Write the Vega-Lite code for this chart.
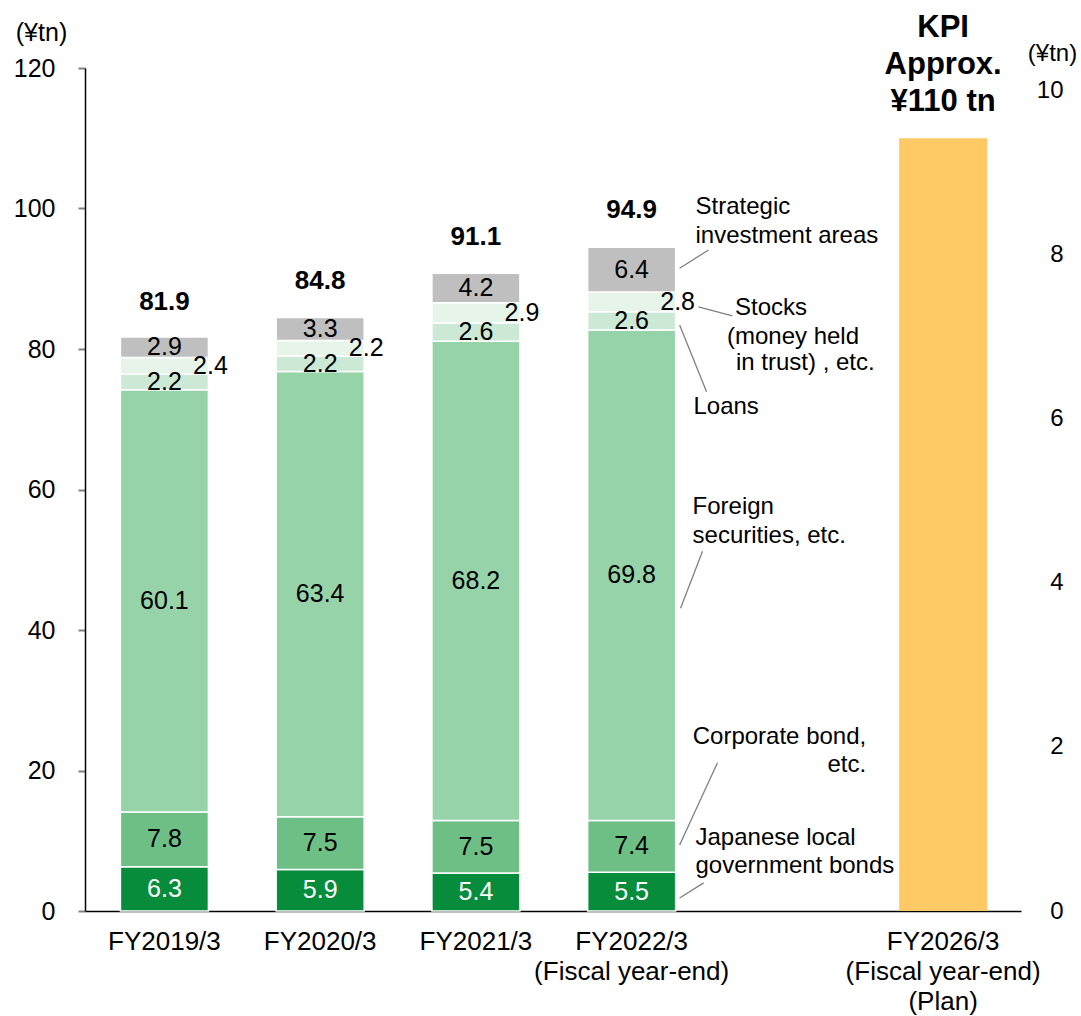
{
  "$schema": "https://vega.github.io/schema/vega-lite/v6.json",
  "width": 936,
  "height": 843,
  "autosize": {"type": "none"},
  "padding": {"left": 85, "top": 68, "right": 60, "bottom": 105},
  "background": "white",
  "config": {
    "view": {"stroke": null},
    "font": "Liberation Sans, Arial, sans-serif",
    "text": {"font": "Liberation Sans, Arial, sans-serif"},
    "axis": {"labelFont": "Liberation Sans, Arial, sans-serif", "titleFont": "Liberation Sans, Arial, sans-serif", "labelColor": "black", "titleColor": "black"}
  },
  "datasets": {
    "holdings": [
      {"slot": 1, "cat": "Japanese local government bonds", "order": 1, "value": 6.3},
      {"slot": 1, "cat": "Corporate bond, etc.", "order": 2, "value": 7.8},
      {"slot": 1, "cat": "Foreign securities, etc.", "order": 3, "value": 60.1},
      {"slot": 1, "cat": "Loans", "order": 4, "value": 2.2},
      {"slot": 1, "cat": "Stocks (money held in trust), etc.", "order": 5, "value": 2.4},
      {"slot": 1, "cat": "Strategic investment areas", "order": 6, "value": 2.9},
      {"slot": 2, "cat": "Japanese local government bonds", "order": 1, "value": 5.9},
      {"slot": 2, "cat": "Corporate bond, etc.", "order": 2, "value": 7.5},
      {"slot": 2, "cat": "Foreign securities, etc.", "order": 3, "value": 63.4},
      {"slot": 2, "cat": "Loans", "order": 4, "value": 2.2},
      {"slot": 2, "cat": "Stocks (money held in trust), etc.", "order": 5, "value": 2.2},
      {"slot": 2, "cat": "Strategic investment areas", "order": 6, "value": 3.3},
      {"slot": 3, "cat": "Japanese local government bonds", "order": 1, "value": 5.4},
      {"slot": 3, "cat": "Corporate bond, etc.", "order": 2, "value": 7.5},
      {"slot": 3, "cat": "Foreign securities, etc.", "order": 3, "value": 68.2},
      {"slot": 3, "cat": "Loans", "order": 4, "value": 2.6},
      {"slot": 3, "cat": "Stocks (money held in trust), etc.", "order": 5, "value": 2.9},
      {"slot": 3, "cat": "Strategic investment areas", "order": 6, "value": 4.2},
      {"slot": 4, "cat": "Japanese local government bonds", "order": 1, "value": 5.5},
      {"slot": 4, "cat": "Corporate bond, etc.", "order": 2, "value": 7.4},
      {"slot": 4, "cat": "Foreign securities, etc.", "order": 3, "value": 69.8},
      {"slot": 4, "cat": "Loans", "order": 4, "value": 2.6},
      {"slot": 4, "cat": "Stocks (money held in trust), etc.", "order": 5, "value": 2.8},
      {"slot": 4, "cat": "Strategic investment areas", "order": 6, "value": 6.4}
    ],
    "years": [
      {"slot": 1, "label": "FY2019/3", "total": 81.9},
      {"slot": 2, "label": "FY2020/3", "total": 84.8},
      {"slot": 3, "label": "FY2021/3", "total": 91.1},
      {"slot": 4, "label": "FY2022/3\n(Fiscal year-end)", "total": 94.9},
      {"slot": 6, "label": "FY2026/3\n(Fiscal year-end)\n(Plan)", "total": null}
    ],
    "plan": [
      {"slot": 6, "value": 110, "note": "KPI\nApprox.\n¥110 tn"}
    ],
    "leaders": [
      {"cat": "Strategic investment areas", "x": 4.308, "y": 91.5, "x2": 4.494, "y2": 94.1},
      {"cat": "Stocks (money held in trust), etc.", "x": 4.429, "y": 86.0, "x2": 4.647, "y2": 84.7},
      {"cat": "Loans", "x": 4.308, "y": 83.4, "x2": 4.481, "y2": 73.9},
      {"cat": "Foreign securities, etc.", "x": 4.314, "y": 43.1, "x2": 4.455, "y2": 51.2},
      {"cat": "Corporate bond, etc.", "x": 4.308, "y": 9.4, "x2": 4.551, "y2": 21.1},
      {"cat": "Japanese local government bonds", "x": 4.308, "y": 1.85, "x2": 4.462, "y2": 4.0}
    ],
    "notes": [
      {"cat": "Strategic investment areas", "tx": 4.41, "ty": 100.2, "side": "left", "text": "Strategic\ninvestment areas"},
      {"cat": "Stocks (money held in trust), etc.", "tx": 4.664, "ty": 85.8, "side": "left", "text": "Stocks"},
      {"cat": "Stocks (money held in trust), etc.", "tx": 4.612, "ty": 81.7, "side": "left", "text": "(money held"},
      {"cat": "Stocks (money held in trust), etc.", "tx": 4.67, "ty": 78.0, "side": "left", "text": "in trust) , etc."},
      {"cat": "Loans", "tx": 4.397, "ty": 71.7, "side": "left", "text": "Loans"},
      {"cat": "Foreign securities, etc.", "tx": 4.391, "ty": 57.5, "side": "left", "text": "Foreign\nsecurities, etc."},
      {"cat": "Corporate bond, etc.", "tx": 5.506, "ty": 24.8, "side": "right", "text": "Corporate bond,\netc."},
      {"cat": "Japanese local government bonds", "tx": 4.41, "ty": 10.4, "side": "left", "text": "Japanese local\ngovernment bonds"}
    ],
    "rightTicks": [{"r": 0}, {"r": 10}]
  },
  "layer": [
    {
      "layer": [
        {
          "data": {"name": "holdings"},
          "transform": [
            {"stack": "value", "groupby": ["slot"], "sort": [{"field": "order", "order": "ascending"}], "as": ["y0", "y1"]}
          ],
          "mark": {"type": "bar", "orient": "vertical", "size": 88, "stroke": "white", "strokeWidth": 1.5},
          "encoding": {
            "x": {
              "field": "slot", "type": "quantitative",
              "scale": {"domain": [0.49, 6.5], "nice": false, "zero": false, "padding": 0},
              "axis": {"labels": false, "ticks": false, "grid": false, "title": null, "domain": true, "domainColor": "black", "domainWidth": 1.5}
            },
            "y": {
              "field": "y0", "type": "quantitative",
              "scale": {"domain": [0, 120], "nice": false, "padding": 0},
              "axis": {
                "values": [0, 20, 40, 60, 80, 100, 120],
                "grid": false,
                "domain": true, "domainColor": "black", "domainWidth": 1.5,
                "ticks": true, "tickColor": "#808080", "tickWidth": 2, "tickSize": 7,
                "labelFontSize": 25, "labelPadding": 23,
                "title": "(¥tn)", "titleAngle": 0, "titleFontSize": 25, "titleFontWeight": "normal",
                "titleAlign": "center", "titleBaseline": "middle", "titleX": -44, "titleY": -36
              }
            },
            "y2": {"field": "y1"},
            "color": {
              "field": "cat", "type": "nominal", "legend": null,
              "scale": {
                "domain": ["Japanese local government bonds", "Corporate bond, etc.", "Foreign securities, etc.", "Loans", "Stocks (money held in trust), etc.", "Strategic investment areas"],
                "range": ["#068C3B", "#6DBF86", "#96D3A9", "#CCE9D5", "#E7F4EA", "#BFBFBF"]
              }
            }
          }
        },
        {
          "data": {"name": "holdings"},
          "transform": [
            {"stack": "value", "groupby": ["slot"], "sort": [{"field": "order", "order": "ascending"}], "as": ["y0", "y1"]},
            {"calculate": "(datum.y0 + datum.y1) / 2", "as": "mid"},
            {"filter": "datum.cat !== 'Stocks (money held in trust), etc.'"}
          ],
          "mark": {"type": "text", "fontSize": 25, "align": "center", "baseline": "middle"},
          "encoding": {
            "x": {"field": "slot", "type": "quantitative"},
            "y": {"field": "mid", "type": "quantitative"},
            "text": {"field": "value", "type": "quantitative", "format": ".1f"},
            "color": {"condition": {"test": "datum.cat === 'Japanese local government bonds'", "value": "white"}, "value": "black"}
          }
        },
        {
          "data": {"name": "holdings"},
          "transform": [
            {"stack": "value", "groupby": ["slot"], "sort": [{"field": "order", "order": "ascending"}], "as": ["y0", "y1"]},
            {"calculate": "(datum.y0 + datum.y1) / 2", "as": "mid"},
            {"filter": "datum.cat === 'Stocks (money held in trust), etc.'"}
          ],
          "mark": {"type": "text", "fontSize": 25, "align": "center", "baseline": "middle", "dx": 46, "color": "black"},
          "encoding": {
            "x": {"field": "slot", "type": "quantitative"},
            "y": {"field": "mid", "type": "quantitative"},
            "text": {"field": "value", "type": "quantitative", "format": ".1f"}
          }
        },
        {
          "data": {"name": "years"},
          "transform": [{"filter": "datum.total != null"}],
          "mark": {"type": "text", "fontSize": 26, "fontWeight": "bold", "align": "center", "baseline": "middle", "dy": -34, "color": "black"},
          "encoding": {
            "x": {"field": "slot", "type": "quantitative"},
            "y": {"field": "total", "type": "quantitative"},
            "text": {"field": "total", "type": "quantitative", "format": ".1f"}
          }
        },
        {
          "data": {"name": "years"},
          "mark": {"type": "text", "fontSize": 26, "align": "center", "baseline": "top", "dy": 18, "lineBreak": "\n", "lineHeight": 30, "color": "black"},
          "encoding": {
            "x": {"field": "slot", "type": "quantitative"},
            "y": {"datum": 0},
            "text": {"field": "label"}
          }
        },
        {
          "data": {"name": "plan"},
          "mark": {"type": "bar", "orient": "vertical", "size": 88, "color": "#FFCA66"},
          "encoding": {
            "x": {"field": "slot", "type": "quantitative"},
            "y": {"field": "value", "type": "quantitative"},
            "y2": {"datum": 0}
          }
        },
        {
          "data": {"name": "plan"},
          "mark": {"type": "text", "fontSize": 31, "fontWeight": "bold", "align": "center", "baseline": "middle", "dy": -110, "lineBreak": "\n", "lineHeight": 37, "color": "black"},
          "encoding": {
            "x": {"field": "slot", "type": "quantitative"},
            "y": {"field": "value", "type": "quantitative"},
            "text": {"field": "note"}
          }
        },
        {
          "data": {"name": "leaders"},
          "mark": {"type": "rule", "color": "#808080", "strokeWidth": 1.3},
          "encoding": {
            "x": {"field": "x", "type": "quantitative"},
            "y": {"field": "y", "type": "quantitative"},
            "x2": {"field": "x2"},
            "y2": {"field": "y2"}
          }
        },
        {
          "data": {"name": "notes"},
          "transform": [{"filter": "datum.side === 'left'"}],
          "mark": {"type": "text", "fontSize": 24, "align": "left", "baseline": "middle", "lineBreak": "\n", "lineHeight": 28.5, "color": "black"},
          "encoding": {
            "x": {"field": "tx", "type": "quantitative"},
            "y": {"field": "ty", "type": "quantitative"},
            "text": {"field": "text"}
          }
        },
        {
          "data": {"name": "notes"},
          "transform": [{"filter": "datum.side === 'right'"}],
          "mark": {"type": "text", "fontSize": 24, "align": "right", "baseline": "middle", "lineBreak": "\n", "lineHeight": 28.5, "color": "black"},
          "encoding": {
            "x": {"field": "tx", "type": "quantitative"},
            "y": {"field": "ty", "type": "quantitative"},
            "text": {"field": "text"}
          }
        }
      ]
    },
    {
      "data": {"name": "rightTicks"},
      "mark": {"type": "point", "opacity": 0},
      "encoding": {
        "y": {
          "field": "r", "type": "quantitative",
          "scale": {"domain": [0, 10.28], "nice": false, "padding": 0},
          "axis": {
            "orient": "right",
            "values": [0, 2, 4, 6, 8, 10],
            "grid": false, "domain": false, "ticks": false,
            "labelFontSize": 24, "labelAlign": "right", "labelPadding": 42,
            "title": "(¥tn)", "titleAngle": 0, "titleFontSize": 24, "titleFontWeight": "normal",
            "titleAlign": "center", "titleBaseline": "middle", "titleX": 31, "titleY": -15
          }
        }
      }
    }
  ],
  "resolve": {"scale": {"y": "independent"}, "axis": {"y": "independent"}}
}
